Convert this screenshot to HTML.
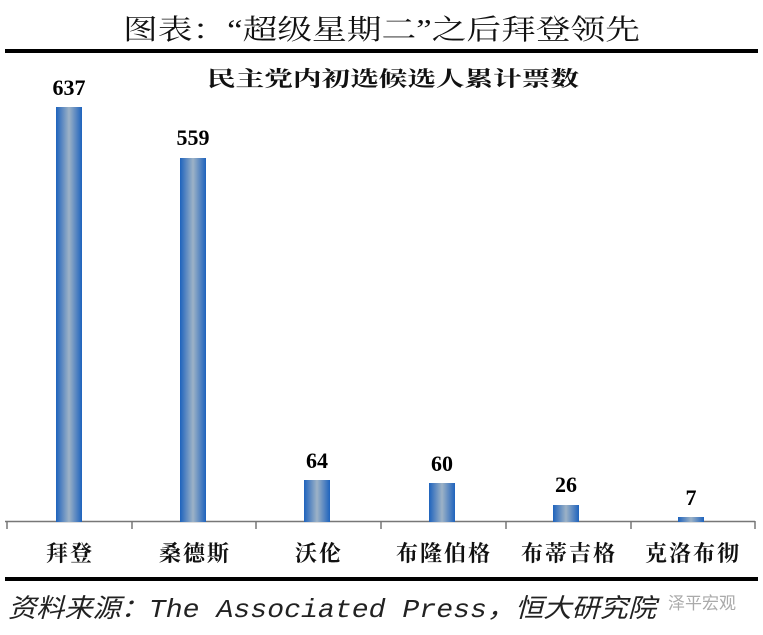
<!DOCTYPE html>
<html><head><meta charset="utf-8"><style>
body{margin:0;background:#fff;}
svg{display:block}
</style></head><body>
<svg width="763" height="635" viewBox="0 0 763 635" xmlns="http://www.w3.org/2000/svg">
<defs>
<linearGradient id="g" x1="0" x2="1" y1="0" y2="0">
<stop offset="0" stop-color="#1e63bd"/>
<stop offset="0.5" stop-color="#9db2c6"/>
<stop offset="1" stop-color="#1e63bd"/>
</linearGradient>
</defs>
<text x="123" y="39" font-family="'Liberation Serif','Noto Serif CJK SC',serif" font-size="28" fill="#111" textLength="517" lengthAdjust="spacingAndGlyphs">图表：“超级星期二”之后拜登领先</text>
<rect x="5" y="49" width="753" height="4" fill="#000"/>
<text x="207" y="86" font-family="'Liberation Serif','Noto Serif CJK SC',serif" font-weight="bold" font-size="21" fill="#111" textLength="372" lengthAdjust="spacingAndGlyphs">民主党内初选候选人累计票数</text>
<line x1="5" y1="521.5" x2="755" y2="521.5" stroke="#777" stroke-width="1.5"/>
<g stroke="#777" stroke-width="1.5">
<line x1="7" y1="521" x2="7" y2="529"/><line x1="132" y1="521" x2="132" y2="529"/><line x1="256" y1="521" x2="256" y2="529"/><line x1="381" y1="521" x2="381" y2="529"/><line x1="506" y1="521" x2="506" y2="529"/><line x1="631" y1="521" x2="631" y2="529"/><line x1="755" y1="521" x2="755" y2="529"/>
</g>
<g fill="url(#g)">
<rect x="56" y="107" width="26" height="415"/>
<rect x="180" y="158" width="26" height="364"/>
<rect x="304" y="480" width="26" height="42"/>
<rect x="429" y="483" width="26" height="39"/>
<rect x="553" y="505" width="26" height="17"/>
<rect x="678" y="517" width="26" height="5"/>
</g>
<g font-family="'Liberation Serif',serif" font-weight="bold" font-size="22" fill="#000" text-anchor="middle">
<text x="69" y="95">637</text><text x="193" y="145">559</text><text x="317" y="468">64</text><text x="442" y="471">60</text><text x="566" y="492">26</text><text x="691" y="505">7</text>
</g>
<g font-family="'Liberation Serif','Noto Serif CJK SC',serif" font-weight="bold" font-size="22" fill="#111" text-anchor="middle" letter-spacing="2">
<text x="70" y="561">拜登</text><text x="195" y="561">桑德斯</text><text x="319" y="561">沃伦</text><text x="444" y="561">布隆伯格</text><text x="569" y="561">布蒂吉格</text><text x="693" y="561">克洛布彻</text>
</g>
<rect x="5" y="577" width="753" height="4" fill="#000"/>
<text x="8" y="617" font-family="'Liberation Mono','Noto Sans CJK SC',monospace" font-style="italic" font-size="26" fill="#222" textLength="648" lengthAdjust="spacingAndGlyphs">资料来源：The Associated Press，恒大研究院</text>
<text x="668" y="609" font-family="'Liberation Sans','Noto Sans CJK SC',sans-serif" font-size="17" fill="#aaa">泽平宏观</text>
</svg>
</body></html>
